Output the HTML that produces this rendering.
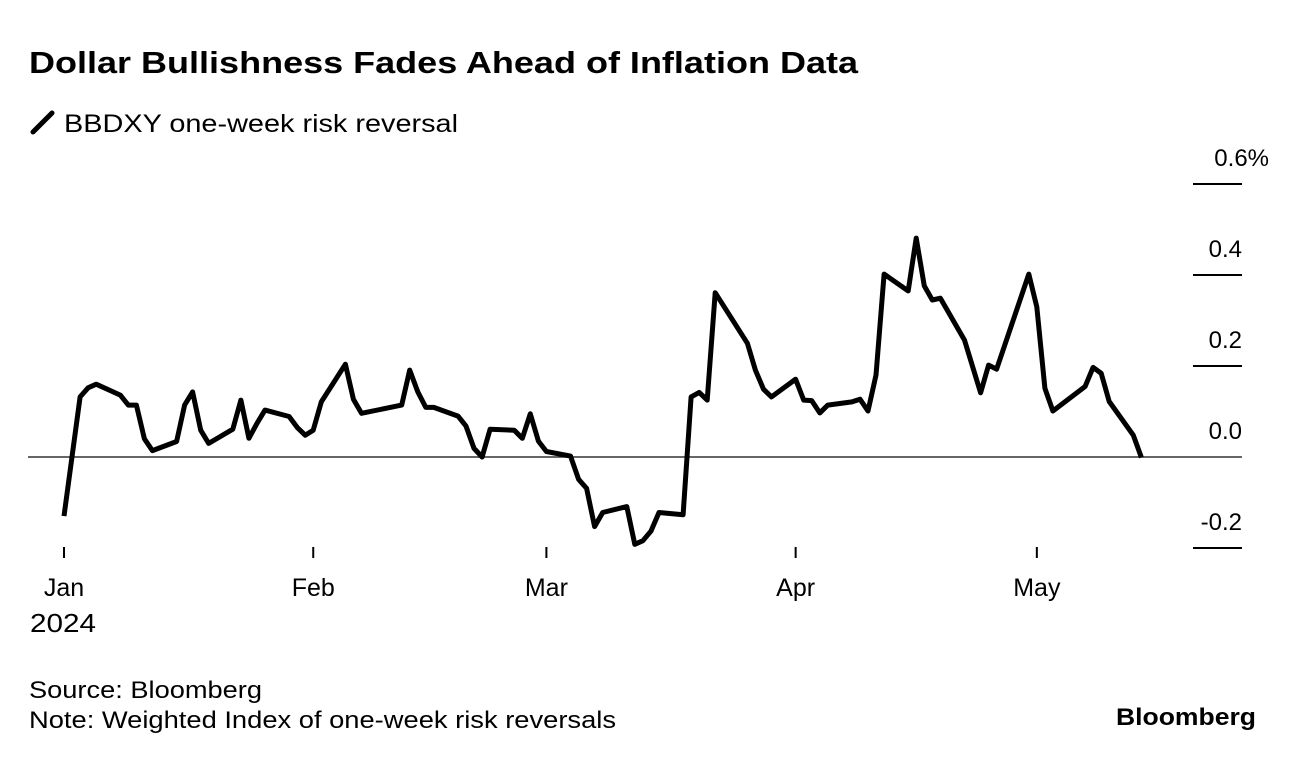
<!DOCTYPE html>
<html><head><meta charset="utf-8"><style>
body{margin:0;width:1296px;height:760px;background:#fff;font-family:"Liberation Sans",sans-serif;overflow:hidden}
svg{position:absolute;left:0;top:0}
</style></head><body>
<svg width="1296" height="760">
<text x="29" y="73" font-size="31" font-weight="bold" fill="#000" textLength="829" lengthAdjust="spacingAndGlyphs">Dollar Bullishness Fades Ahead of Inflation Data</text>
<g>
<line x1="33" y1="132" x2="52" y2="113" stroke="#000" stroke-width="5" stroke-linecap="round"/>
<text x="64" y="132" font-size="25" fill="#000" textLength="394" lengthAdjust="spacingAndGlyphs">BBDXY one-week risk reversal</text>
</g>
<g id="yaxis"></g>
<g id="xaxis"></g>
<path id="line" fill="none" stroke="#000" stroke-width="5" stroke-linejoin="round"/>
<text x="29" y="698" font-size="24" fill="#000" textLength="233" lengthAdjust="spacingAndGlyphs">Source: Bloomberg</text>
<text x="29" y="728" font-size="24" fill="#000" textLength="587" lengthAdjust="spacingAndGlyphs">Note: Weighted Index of one-week risk reversals</text>
<text x="1116" y="725" font-size="24" font-weight="bold" fill="#000" textLength="140" lengthAdjust="spacingAndGlyphs">Bloomberg</text>
</svg>
<script>
const days=[0,2,3,4,7,8,9,10,11,14,15,16,17,18,21,22,23,24,25,28,29,30,31,32,35,36,37,42,43,44,45,46,49,50,51,52,53,56,57,58,59,60,63,64,65,66,67,70,71,72,73,74,77,78,79,80,81,85,86,87,88,91,92,93,94,95,98,99,100,101,102,105,106,107,108,109,112,114,115,116,120,121,122,123,127,128,129,130,133,134];
const values=[-0.130,0.132,0.152,0.160,0.136,0.114,0.114,0.040,0.014,0.034,0.114,0.143,0.059,0.030,0.061,0.125,0.041,0.074,0.103,0.089,0.065,0.048,0.059,0.121,0.204,0.127,0.096,0.114,0.191,0.143,0.109,0.109,0.090,0.068,0.019,0.000,0.061,0.059,0.041,0.095,0.035,0.012,0.002,-0.049,-0.069,-0.153,-0.122,-0.109,-0.192,-0.184,-0.163,-0.122,-0.127,0.132,0.142,0.125,0.361,0.250,0.191,0.149,0.132,0.171,0.125,0.124,0.097,0.114,0.121,0.127,0.101,0.180,0.402,0.365,0.481,0.376,0.345,0.349,0.257,0.141,0.202,0.193,0.402,0.330,0.151,0.101,0.155,0.197,0.184,0.122,0.048,-0.001];
const yTicks=[0.6,0.4,0.2,0.0,-0.2];
const yTickLabels=["0.6%","0.4","0.2","0.0","-0.2"];
const monthDays=[0,31,60,91,121];
const monthLabels=["Jan","Feb","Mar","Apr","May"];
const NS="http://www.w3.org/2000/svg";
const xs=d=>64+d*8.04;
const ys=v=>457-v*455;
const ya=document.getElementById('yaxis');
yTicks.forEach((t,i)=>{
  const l=document.createElementNS(NS,'line');
  
  
  l.setAttribute('x1',t===0?28:1193);l.setAttribute('x2',1242);
  l.setAttribute('y1',ys(t));l.setAttribute('y2',ys(t));
  l.setAttribute('stroke',t===0?'#333':'#000');l.setAttribute('stroke-width',t===0?1.5:2);
  ya.appendChild(l);
  const tx=document.createElementNS(NS,'text');
  
  
  tx.setAttribute('x',yTickLabels[i].includes('%')?1269:1242);tx.setAttribute('y',ys(t)-18);
  tx.setAttribute('text-anchor','end');tx.setAttribute('font-size','24');
  tx.textContent=yTickLabels[i];ya.appendChild(tx);
});
const xa=document.getElementById('xaxis');
monthDays.forEach((d,i)=>{
  const l=document.createElementNS(NS,'line');
  
  
  l.setAttribute('x1',xs(d));l.setAttribute('x2',xs(d));l.setAttribute('y1',547);l.setAttribute('y2',558);
  l.setAttribute('stroke','#000');l.setAttribute('stroke-width',2);xa.appendChild(l);
  const tx=document.createElementNS(NS,'text');
  
  
  tx.setAttribute('x',xs(d));tx.setAttribute('y',596);tx.setAttribute('text-anchor','middle');tx.setAttribute('font-size','25');
  tx.textContent=monthLabels[i];xa.appendChild(tx);
});
const yr=document.createElementNS(NS,'text');


yr.setAttribute('x',30);yr.setAttribute('y',632);yr.setAttribute('font-size','26');
yr.setAttribute('textLength','66');
yr.setAttribute('lengthAdjust','spacingAndGlyphs');
yr.textContent='2024';xa.appendChild(yr);
document.getElementById('line').setAttribute('d',days.map((d,i)=>(i?'L':'M')+xs(d).toFixed(1)+','+ys(values[i]).toFixed(1)).join(''));
</script>
</body></html>
